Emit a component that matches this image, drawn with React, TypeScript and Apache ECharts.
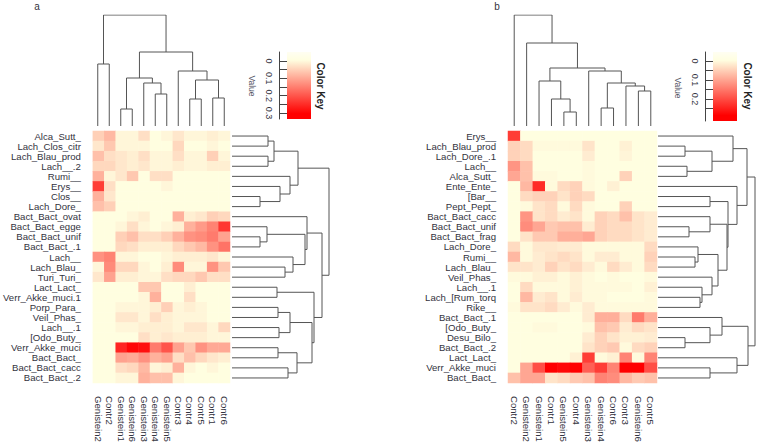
import React, { useEffect, useRef } from "react";
import * as echarts from "echarts";

// ---------- Panel a ----------
const colsA = ["Genistein2", "Contr2", "Genistein1", "Genistein6", "Genistein3", "Genistein4", "Genistein5", "Contr3", "Contr4", "Contr5", "Contr1", "Contr6"];
const rowsA = ["Alca_Sutt_", "Lach_Clos_citr", "Lach_Blau_prod", "Lach__.2", "Rumi__", "Erys__", "Clos__", "Lach_Dore_", "Bact_Bact_ovat", "Bact_Bact_egge", "Bact_Bact_unif", "Bact_Bact_.1", "Lach__", "Lach_Blau_", "Turi_Turi_", "Lact_Lact_", "Verr_Akke_muci.1", "Porp_Para_", "Veil_Phas_", "Lach__.1", "[Odo_Buty_", "Verr_Akke_muci", "Bact_Bact_", "Bact_Bact_cacc", "Bact_Bact_.2"];
const valuesA = [
  [0.06, 0.09, 0.01, 0.01, 0.04, 0, 0.01, 0.03, 0.01, 0.01, 0.02, 0.01],
  [0.03, 0.07, 0.01, 0.01, 0.01, 0, 0, 0.05, 0, 0, 0.01, 0],
  [0.08, 0.04, 0.03, 0.02, 0.04, 0.01, 0.01, 0.04, 0.01, 0.01, 0.06, 0.01],
  [0.05, 0.05, 0.03, 0.02, 0.03, 0.01, 0.01, 0.02, 0.01, 0.01, 0.02, 0.02],
  [0.1, 0.01, 0.03, 0.07, 0, 0.04, 0.04, 0, 0, 0, 0, 0],
  [0.25, 0.04, 0, 0, 0, 0, 0.01, 0, 0, 0, 0, 0],
  [0.1, 0.03, 0, 0, 0, 0, 0, 0, 0, 0, 0, 0],
  [0.08, 0.06, 0, 0, 0, 0, 0, 0, 0, 0, 0, 0],
  [0, 0, 0, 0.01, 0.02, 0, 0, 0.1, 0.02, 0.03, 0.06, 0.05],
  [0, 0, 0.01, 0.04, 0.01, 0, 0.01, 0.02, 0.1, 0.13, 0.16, 0.26],
  [0, 0, 0.06, 0.08, 0.04, 0.04, 0.06, 0.1, 0.14, 0.15, 0.17, 0.12],
  [0, 0, 0.05, 0.04, 0.02, 0.02, 0.02, 0.05, 0.07, 0.09, 0.14, 0.18],
  [0.14, 0.16, 0.01, 0.01, 0, 0, 0.01, 0.02, 0.02, 0.02, 0.03, 0.01],
  [0.01, 0.15, 0.05, 0.05, 0.01, 0, 0.02, 0.15, 0.01, 0.01, 0.14, 0.07],
  [0.03, 0.12, 0.02, 0.02, 0.01, 0.01, 0.04, 0.05, 0.05, 0.07, 0.04, 0.04],
  [0, 0, 0, 0, 0.07, 0.07, 0, 0, 0.02, 0, 0, 0],
  [0, 0, 0, 0, 0.01, 0.1, 0, 0, 0.04, 0, 0, 0],
  [0, 0, 0.01, 0.01, 0.01, 0.02, 0.06, 0.01, 0.02, 0.01, 0, 0],
  [0, 0, 0.03, 0.03, 0.01, 0.04, 0.02, 0.01, 0.01, 0.01, 0, 0],
  [0, 0, 0.01, 0.01, 0.02, 0.02, 0.02, 0.01, 0.03, 0.03, 0.01, 0.05],
  [0, 0, 0, 0, 0.04, 0.02, 0.03, 0.02, 0.02, 0.02, 0.01, 0.01],
  [0, 0, 0.28, 0.32, 0.31, 0.17, 0.22, 0.12, 0.07, 0.14, 0.11, 0.11],
  [0, 0, 0.12, 0.11, 0.14, 0.1, 0.12, 0.04, 0.08, 0.05, 0.03, 0.02],
  [0, 0, 0.04, 0.05, 0.09, 0.01, 0.02, 0.1, 0.01, 0, 0.01, 0],
  [0, 0, 0.01, 0.01, 0.1, 0.08, 0.08, 0.01, 0, 0, 0, 0],
];
// hclust-style merges: negative = leaf (1-based), positive = earlier merge (1-based); third = height
const colMergesA = [
  [-1, -2, 6.2], [-3, -4, 1.7], [-6, -7, 3.2], [-5, 3, 4.3], [2, 4, 4.8],
  [-9, -10, 2.7], [-11, -12, 2.8], [6, 7, 4.6], [-8, 8, 5.5], [5, 9, 7.4], [1, 10, 11.1],
];
const rowMergesA = [
  [-1, -2, 3.6], [-3, -4, 3.6], [1, 2, 4.2], [-7, -8, 2.8], [-6, 4, 4.8], [-5, 5, 5.8], [3, 6, 6.6],
  [-11, -12, 2.8], [-10, 8, 3.5], [-14, -15, 5.3], [-13, 10, 6.1], [9, 11, 7.3], [-9, 12, 7.5],
  [-16, -17, 4.5], [-18, -19, 4.6], [-20, -21, 4.7], [15, 16, 5.8], [-22, -23, 4.6], [-24, -25, 5.6],
  [18, 19, 6.5], [17, 20, 8.0], [14, 21, 8.2], [13, 22, 9.0], [7, 23, 9.7],
];
const keyTicksA = [0, 0.05, 0.1, 0.15, 0.2, 0.25, 0.3];
const keyLabelsA = [0, 0.1, 0.2, 0.3];
const maxA = 0.33;

// ---------- Panel b ----------
const colsB = ["Contr2", "Genistein2", "Genistein1", "Contr1", "Genistein5", "Contr4", "Genistein3", "Genistein4", "Contr6", "Contr3", "Genistein6", "Contr5"];
const rowsB = ["Erys__", "Lach_Blau_prod", "Lach_Dore_.1", "Lach__", "Alca_Sutt_", "Ente_Ente_", "[Bar__", "Pept_Pept_", "Bact_Bact_cacc", "Bact_Bact_unif", "Bact_Bact_frag", "Lach_Dore_", "Rumi__", "Lach_Blau_", "Veil_Phas_", "Lach__.1", "Lach_[Rum_torq", "Rike__", "Bact_Bact_.1", "[Odo_Buty_", "Desu_Bilo_", "Bact_Bact_.2", "Lact_Lact_", "Verr_Akke_muci", "Bact_Bact_"];
const valuesB = [
  [0.22, 0, 0, 0, 0, 0, 0, 0, 0, 0, 0, 0],
  [0.05, 0.04, 0.005, 0.005, 0.005, 0.005, 0.03, 0, 0, 0.015, 0, 0],
  [0.05, 0.04, 0, 0, 0, 0, 0.02, 0, 0, 0.01, 0, 0],
  [0.12, 0.07, 0, 0, 0, 0, 0.005, 0, 0, 0, 0, 0],
  [0.1, 0.07, 0.005, 0.005, 0, 0, 0.005, 0, 0, 0.05, 0, 0],
  [0, 0.08, 0.24, 0.005, 0.04, 0.05, 0.005, 0, 0.015, 0, 0, 0],
  [0, 0.04, 0.05, 0.05, 0.03, 0.05, 0.04, 0, 0, 0, 0, 0],
  [0, 0.005, 0.03, 0.04, 0.005, 0.04, 0.005, 0, 0, 0.05, 0, 0],
  [0, 0.12, 0.03, 0.04, 0.02, 0.03, 0.005, 0.05, 0.04, 0.07, 0.03, 0.02],
  [0, 0.13, 0.1, 0.06, 0.07, 0.07, 0.02, 0.05, 0.04, 0.04, 0.03, 0.02],
  [0, 0.03, 0.06, 0.06, 0.09, 0.09, 0.1, 0.05, 0.04, 0.04, 0.03, 0.02],
  [0.04, 0.005, 0.025, 0.025, 0.02, 0.02, 0.005, 0.005, 0.005, 0.005, 0.005, 0.04],
  [0.08, 0.005, 0.02, 0.03, 0.04, 0.03, 0.005, 0.02, 0.02, 0.005, 0.005, 0.05],
  [0.03, 0.03, 0.02, 0.05, 0.03, 0.04, 0.02, 0.005, 0.04, 0.02, 0.005, 0.04],
  [0.005, 0.005, 0.015, 0.015, 0.005, 0.015, 0.005, 0, 0.005, 0, 0, 0.005],
  [0, 0.04, 0.005, 0.005, 0.005, 0.015, 0.005, 0.005, 0.005, 0.005, 0, 0.015],
  [0, 0.08, 0.02, 0.03, 0.005, 0.02, 0.005, 0.005, 0, 0, 0, 0.005],
  [0.005, 0.03, 0.03, 0.04, 0.02, 0.005, 0.02, 0.005, 0.005, 0.005, 0.005, 0.005],
  [0, 0, 0, 0, 0, 0, 0.02, 0.09, 0.09, 0.04, 0.15, 0.09],
  [0, 0, 0.005, 0.005, 0, 0, 0.005, 0.07, 0.06, 0.02, 0.04, 0.03],
  [0, 0, 0, 0, 0, 0, 0.02, 0.05, 0.03, 0.015, 0.015, 0.02],
  [0, 0, 0, 0, 0, 0, 0.03, 0.05, 0.06, 0.005, 0.04, 0.05],
  [0, 0, 0, 0, 0, 0.015, 0.22, 0.005, 0.015, 0.14, 0.005, 0.14],
  [0, 0.1, 0.2, 0.29, 0.28, 0.29, 0.18, 0.22, 0.14, 0.29, 0.29, 0.2],
  [0.07, 0.1, 0.1, 0.03, 0.04, 0.06, 0.07, 0.14, 0.13, 0.08, 0.06, 0.07],
];
const colMergesB = [
  [-5, -6, 1.4], [-4, 1, 2.7], [-3, 2, 4.5], [-8, -9, 1.8], [-11, -12, 3.5], [-10, 5, 4.0],
  [4, 6, 4.3], [-7, 7, 5.5], [3, 8, 5.8], [-2, 9, 8.3], [-1, 10, 11.1],
];
const rowMergesB = [
  [-2, -3, 2.7], [-4, -5, 2.9], [1, 2, 5.4], [-1, 3, 7.5], [-7, -8, 5.2], [-10, -11, 3.1],
  [-9, 6, 5.2], [-13, -14, 3.7], [-12, 8, 4.0], [-17, -18, 4.2], [-16, 10, 4.4], [-15, 11, 5.4],
  [9, 12, 6.0], [7, 13, 6.9], [5, 14, 7.0], [-6, 15, 7.9], [4, 16, 8.9], [-21, -22, 2.7],
  [-20, 18, 5.2], [-19, 19, 6.4], [-24, -25, 5.2], [-23, 21, 7.9], [20, 22, 9.0], [17, 23, 9.7],
];
const keyTicksB = [0, 0.05, 0.1, 0.15, 0.2, 0.25];
const keyLabelsB = [0, 0.1, 0.2];
const maxB = 0.29;

const CREAM = "#FFFEE0";
const RED = "#FF0000";
const FONT = "Liberation Sans, Arial, sans-serif";
const TXT = "#333340";
const LINE = "#555";

function dendro(merges: number[][], horizontal: boolean) {
  const pos: number[] = [];
  const hgt: number[] = [];
  const items: any[] = [];
  const get = (k: number) => (k < 0 ? [-k - 1, 0] : [pos[k - 1], hgt[k - 1]]);
  merges.forEach(([a, b, h], i) => {
    const [pa, ha] = get(a);
    const [pb, hb] = get(b);
    const pts = [[pa, ha], [pa, h], [pb, h], [pb, hb]];
    items.push({ coords: horizontal ? pts.map(([p, v]) => [v, p]) : pts });
    pos[i] = (pa + pb) / 2;
    hgt[i] = h;
  });
  return items;
}

function heatData(values: number[][]) {
  const out: number[][] = [];
  values.forEach((row, r) => row.forEach((v, c) => out.push([c, r, v])));
  return out;
}

export default function App() {
  const ref = useRef<HTMLDivElement>(null);
  useEffect(() => {
    const chart = echarts.init(ref.current!, null, { renderer: "svg" });
    const hidden = { show: false };
    const panel = (cols: string[], rows: string[], L: { hx: number; hw: number; rx: number; kx: number; kh: number }, kmin: number, kmax: number, ticks: number[], labels: number[], gi: number) => {
      const grids = [
        { left: L.hx, top: 131, width: L.hw, height: 252 },
        { left: L.hx, top: 15, width: L.hw, height: 111 },
        { left: L.rx, top: 131, width: 97, height: 252 },
        { left: L.kx, top: 52, width: 24, height: L.kh },
      ];
      const xAxes = [
        {
          type: "category", data: cols, gridIndex: gi, position: "bottom",
          axisLine: hidden, axisTick: hidden, splitLine: hidden,
          axisLabel: { rotate: -90, interval: 0, margin: 13, fontSize: 9.6, color: TXT, fontFamily: FONT },
        },
        { type: "value", gridIndex: gi + 1, min: -0.5, max: cols.length - 0.5, show: false },
        { type: "value", gridIndex: gi + 2, min: 0, max: 9.7, show: false },
        { type: "category", gridIndex: gi + 3, data: ["key"], show: false },
      ];
      const yAxes = [
        {
          type: "category", data: rows, gridIndex: gi, inverse: true,
          axisLine: hidden, axisTick: hidden, splitLine: hidden,
          axisLabel: { interval: 0, margin: 12, fontSize: 9.6, color: TXT, fontFamily: FONT },
        },
        { type: "value", gridIndex: gi + 1, min: 0, max: 11.1, show: false },
        { type: "value", gridIndex: gi + 2, min: -0.5, max: rows.length - 0.5, inverse: true, show: false },
        {
          type: "value", gridIndex: gi + 3, min: kmin, max: kmax, inverse: true, position: "left", offset: 8,
          splitLine: hidden,
          axisLine: { show: true, lineStyle: { color: "#444", width: 1 } },
          axisTick: { show: true, inside: true, length: 8, customValues: ticks, lineStyle: { color: "#444" } },
          axisLabel: { customValues: labels, rotate: -90, margin: 6, fontSize: 9, color: TXT, fontFamily: FONT },
        },
      ];
      return { grids, xAxes, yAxes };
    };
    const pa = panel(colsA, rowsA, { hx: 92, hw: 138, rx: 232, kx: 287, kh: 67 }, -0.052, 0.335, keyTicksA, keyLabelsA, 0);
    const pb = panel(colsB, rowsB, { hx: 508, hw: 149, rx: 658, kx: 713, kh: 69 }, -0.047, 0.316, keyTicksB, keyLabelsB, 4);

    const keyRender = (params: any) => {
      const cs = params.coordSys;
      return {
        type: "rect",
        shape: { x: cs.x, y: cs.y, width: cs.width, height: cs.height },
        style: {
          fill: new echarts.graphic.LinearGradient(0, 0, 0, 1, [
            { offset: 0, color: "#FFFEF2" },
            { offset: 0.12, color: CREAM },
            { offset: 0.92, color: RED },
            { offset: 1, color: RED },
          ]),
        },
      };
    };
    const lineSeries = (data: any[], xi: number) => ({
      type: "lines", coordinateSystem: "cartesian2d", xAxisIndex: xi, yAxisIndex: xi,
      polyline: true, silent: true, data,
      lineStyle: { color: LINE, width: 1, opacity: 1 },
    });
    const heat = (values: number[][], xi: number) => ({
      type: "heatmap", xAxisIndex: xi, yAxisIndex: xi, data: heatData(values), silent: true,
      itemStyle: { borderWidth: 0 },
    });

    const textEl = (text: string, x: number, y: number, size: number, rot: number, bold = false, color = TXT) => ({
      type: "text", x, y, rotation: rot,
      style: { text, fontSize: size, fontWeight: bold ? "bold" : "normal", fontFamily: FONT, fill: color, align: "center", verticalAlign: "middle" },
    });

    chart.setOption({
      animation: false,
      backgroundColor: "#ffffff",
      textStyle: { fontFamily: FONT },
      grid: [...pa.grids, ...pb.grids],
      xAxis: [...pa.xAxes, ...pb.xAxes],
      yAxis: [...pa.yAxes, ...pb.yAxes],
      visualMap: [
        { type: "continuous", show: false, seriesIndex: 0, min: 0, max: maxA, inRange: { color: [CREAM, RED] } },
        { type: "continuous", show: false, seriesIndex: 4, min: 0, max: maxB, inRange: { color: [CREAM, RED] } },
      ],
      series: [
        heat(valuesA, 0),
        lineSeries(dendro(colMergesA, false), 1),
        lineSeries(dendro(rowMergesA, true), 2),
        { type: "custom", xAxisIndex: 3, yAxisIndex: 3, data: [[0, 0]], renderItem: keyRender, silent: true },
        heat(valuesB, 4),
        lineSeries(dendro(colMergesB, false), 5),
        lineSeries(dendro(rowMergesB, true), 6),
        { type: "custom", xAxisIndex: 7, yAxisIndex: 7, data: [[0, 0]], renderItem: keyRender, silent: true },
      ],
      graphic: [
        textEl("a", 37, 6, 10, 0),
        textEl("b", 497, 6, 10, 0),
        textEl("Value", 252, 86, 8.5, -Math.PI / 2, false, "#556"),
        textEl("Color Key", 320, 86, 10, -Math.PI / 2, true, "#222"),
        textEl("Value", 678, 88, 8.5, -Math.PI / 2, false, "#556"),
        textEl("Color Key", 747, 86, 10, -Math.PI / 2, true, "#222"),
      ],
    });
    return () => chart.dispose();
  }, []);
  return <div ref={ref} style={{ position: "fixed", left: 0, top: 0, width: 757, height: 446, background: "#fff" }} />;
}
